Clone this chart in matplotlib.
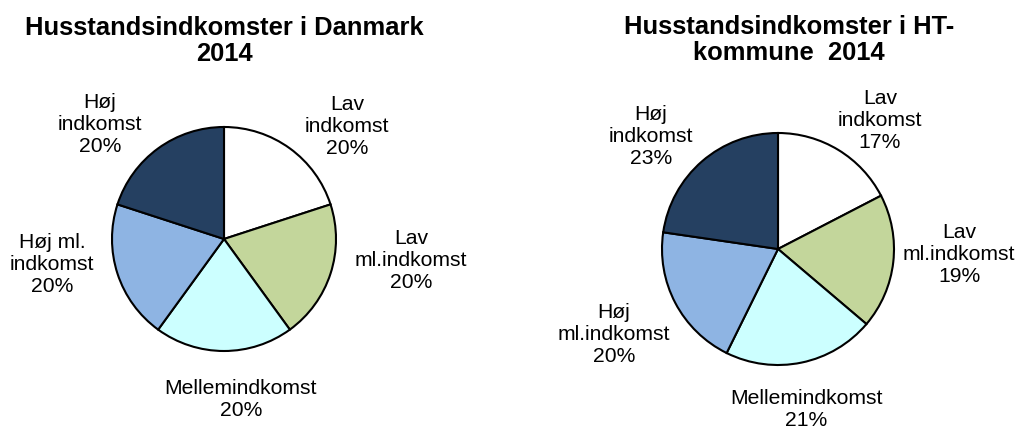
import matplotlib
matplotlib.use("Agg")
import matplotlib.pyplot as plt

plt.rcParams['font.family'] = ['Liberation Sans', 'DejaVu Sans']

W, H = 1018, 430

categories_dk = ["Lav\nindkomst", "Lav\nml.indkomst", "Mellemindkomst", "Høj ml.\nindkomst", "Høj\nindkomst"]
values_dk = [20, 20, 20, 20, 20]
pct_dk = ["20%", "20%", "20%", "20%", "20%"]

categories_ht = ["Lav\nindkomst", "Lav\nml.indkomst", "Mellemindkomst", "Høj\nml.indkomst", "Høj\nindkomst"]
values_ht = [17.4, 18.8, 21.1, 20.0, 22.7]
pct_ht = ["17%", "19%", "21%", "20%", "23%"]

colors = ["#FFFFFF", "#C3D69B", "#CCFFFF", "#8EB4E3", "#254061"]

titles = ["Husstandsindkomster i Danmark\n2014", "Husstandsindkomster i HT-\nkommune  2014"]

fig = plt.figure(figsize=(W / 100, H / 100), dpi=100)


def px_axes(cx, cy, r):
    return fig.add_axes([(cx - r) / W, (H - cy - r) / H, 2 * r / W, 2 * r / H])


def draw(cx, cy, r, values, cats, pcts, label_px, title, title_px):
    ax = px_axes(cx, cy, r)
    ax.pie(values, colors=colors, startangle=90, counterclock=False,
           radius=1.0, wedgeprops=dict(edgecolor="black", linewidth=1.5))
    ax.set_xlim(-1, 1)
    ax.set_ylim(-1, 1)
    ax.set_aspect("equal")
    ax.axis("off")
    for (lx, ly), c, p in zip(label_px, cats, pcts):
        ax.text((lx - cx) / r, (cy - ly) / r, f"{c}\n{p}", ha="center", va="center",
                fontsize=15.2, linespacing=1.2, clip_on=False, zorder=0)
    fig.text(title_px[0] / W, 1 - title_px[1] / H, title, ha="center", va="center",
             fontsize=18.4, fontweight="bold", linespacing=1.12)


draw(224, 239, 112, values_dk, categories_dk, pct_dk,
     [(347, 126), (411, 260), (241, 400), (52, 265), (100, 125)],
     titles[0], (224, 41))
draw(778, 249, 116, values_ht, categories_ht, pct_ht,
     [(880, 121), (959, 254), (806, 410), (614, 334), (651, 137)],
     titles[1], (789, 40))

fig.savefig("out.png", dpi=100, facecolor="white")
